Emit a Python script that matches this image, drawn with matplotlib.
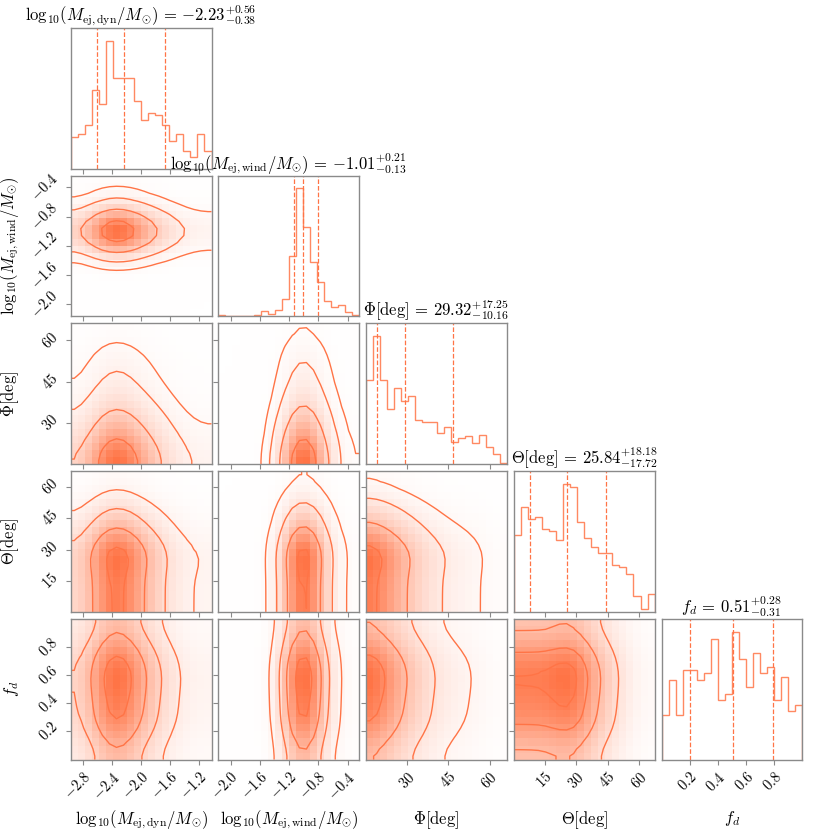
import numpy as np
import matplotlib
matplotlib.use("Agg")
import matplotlib.pyplot as plt
from matplotlib.colors import LinearSegmentedColormap
from matplotlib.ticker import NullFormatter, NullLocator

plt.rcParams.update({
    "font.family": "serif",
    "font.serif": ["cmr10", "DejaVu Serif"],
    "mathtext.fontset": "cm",
    "axes.formatter.use_mathtext": True,
    "axes.unicode_minus": True,
})

# ---------------- data ----------------
labels = [r"$\mathrm{log}_{10}(M_{\rm ej,dyn}/M_{\odot})$",
          r"$\mathrm{log}_{10}(M_{\rm ej,wind}/M_{\odot})$",
          r"$\Phi[\rm deg]$",
          r"$\Theta[\rm deg]$",
          r"$f_d$"]

ranges = [(-2.975, -1.025), (-2.17, -0.24), (15.1, 66.2), (0.3, 67.4), (0.0, 1.0)]

counts_mdyn = [97, 105, 132, 237, 195, 385, 273, 273, 273, 205,
               147, 168, 161, 133, 85, 105, 55, 35, 105, 55]
counts_mwind = [3, 1, 1, 2, 1, 5, 15, 7, 19, 52,
                182, 382, 267, 162, 104, 47, 29, 35, 12, 5]
counts_phi = [252, 384, 254, 166, 230, 190, 205, 132, 127, 127,
              95, 112, 66, 80, 84, 65, 89, 52, 30, 5]
counts_theta = [229, 312, 276, 284, 248, 240, 214, 382, 372, 269,
                221, 194, 177, 177, 141, 134, 114, 46, 8, 52]
counts_fd = [134, 237, 134, 269, 269, 237, 259, 362, 177, 196,
             383, 300, 217, 320, 259, 278, 177, 247, 144, 164]
counts = [counts_mdyn, counts_mwind, counts_phi, counts_theta, counts_fd]

medians = [-2.23, -1.01, 29.32, 25.84, 0.51]
err_plus = [0.56, 0.21, 17.25, 18.18, 0.28]
err_minus = [0.38, 0.13, 10.16, 17.72, 0.31]

ticks = [[-2.8, -2.4, -2.0, -1.6, -1.2],
         [-2.0, -1.6, -1.2, -0.8, -0.4],
         [30, 45, 60],
         [15, 30, 45, 60],
         [0.2, 0.4, 0.6, 0.8]]

contour_masses = [0.118, 0.393, 0.675, 0.865]

# ---------------- style ----------------
C = "#ff7446"
SPINE = "#8a8a8a"
n = len(labels)
nbins = 20
smooth_sigma = 2.5
FS = 12

density_cmap = LinearSegmentedColormap.from_list("dens", [(1, 1, 1, 0), C])


def smooth2d(H, s):
    r = int(3 * s) + 1
    k = np.exp(-0.5 * (np.arange(-r, r + 1) / s) ** 2)
    k /= k.sum()
    P = np.pad(H, r, mode="symmetric")
    P = np.apply_along_axis(lambda v: np.convolve(v, k, mode="valid"), 0, P)
    P = np.apply_along_axis(lambda v: np.convolve(v, k, mode="valid"), 1, P)
    return P


def find_levels(H, masses):
    flat = np.sort(H.ravel())[::-1]
    cs = np.cumsum(flat)
    cs /= cs[-1]
    V = []
    for m in masses:
        sel = flat[cs <= m]
        V.append(sel[-1] if len(sel) else flat[0])
    return sorted(V)


fig = plt.figure(figsize=(8.3, 8.3), dpi=100)
W = 830.0
left0, top0, step, size = 70.7, 28.0, 147.7, 140.8

for i in range(n):
    for j in range(i + 1):
        x0 = left0 + j * step
        y0 = top0 + i * step
        ax = fig.add_axes([x0 / W, 1 - (y0 + size) / W, size / W, size / W])
        for sp in ax.spines.values():
            sp.set_color(SPINE)
            sp.set_linewidth(1.0)
        ax.tick_params(color=SPINE, labelsize=10.5, length=3.5)
        xlo, xhi = ranges[j]
        xedges = np.linspace(xlo, xhi, nbins + 1)
        xcent = 0.5 * (xedges[1:] + xedges[:-1])
        if i == j:
            ax.hist(xcent, bins=xedges, weights=counts[i], histtype="step",
                    color=C, lw=1.0, alpha=0.85)
            ax.set_ylim(0, 1.1 * max(counts[i]))
            ax.set_xlim(xlo, xhi)
            q = [medians[i] - err_minus[i], medians[i], medians[i] + err_plus[i]]
            for qv in q:
                ax.axvline(qv, color=C, ls="--", lw=0.9)
            ax.yaxis.set_major_locator(NullLocator())
            ttl = "{0} = ${1:.2f}_{{-{2:.2f}}}^{{+{3:.2f}}}$".format(
                labels[i], medians[i], err_minus[i], err_plus[i])
            ax.set_title(ttl, fontsize=FS, pad=3)
        else:
            ylo, yhi = ranges[i]
            yedges = np.linspace(ylo, yhi, nbins + 1)
            ycent = 0.5 * (yedges[1:] + yedges[:-1])
            H = np.outer(np.asarray(counts[i], float), np.asarray(counts[j], float))
            H = smooth2d(H, smooth_sigma)
            H /= H.max()
            ax.pcolormesh(xedges, yedges, H, cmap=density_cmap, vmin=0, vmax=1,
                          shading="flat")
            H2 = np.pad(H, 1, mode="edge")
            X2 = np.concatenate([[xlo], xcent, [xhi]])
            Y2 = np.concatenate([[ylo], ycent, [yhi]])
            V = find_levels(H, contour_masses)
            ax.contour(X2, Y2, H2, levels=V, colors=C, linewidths=1.0)
            ax.set_xlim(xlo, xhi)
            ax.set_ylim(ylo, yhi)
            ax.set_yticks(ticks[i])
            if j == 0:
                for lab in ax.get_yticklabels():
                    lab.set_rotation(45)
                    lab.set_va("center")
                    lab.set_ha("right")
                ax.set_ylabel(labels[i], fontsize=FS)
                ax.yaxis.set_label_coords(-0.35, 0.5)
            else:
                ax.yaxis.set_major_formatter(NullFormatter())
        ax.set_xticks(ticks[j])
        if i == n - 1:
            for lab in ax.get_xticklabels():
                lab.set_rotation(45)
                lab.set_ha("right")
                lab.set_va("top")
                lab.set_rotation_mode("anchor")
            ax.set_xlabel(labels[j], fontsize=FS)
            ax.xaxis.set_label_coords(0.5, -0.35)
        else:
            ax.xaxis.set_major_formatter(NullFormatter())

fig.savefig("out.png", dpi=100)
